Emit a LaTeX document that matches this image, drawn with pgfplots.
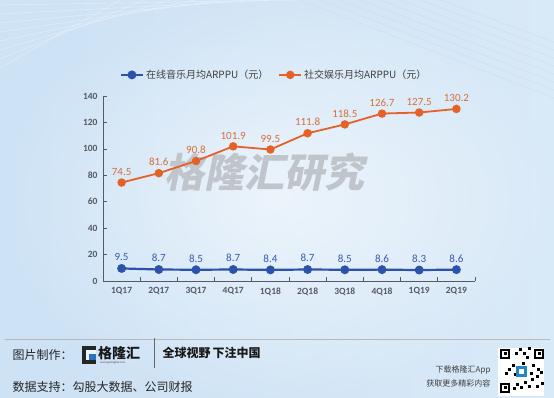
\documentclass[border=0pt]{standalone}
\usepackage{pgfplots}
\pgfplotsset{compat=1.18}
\usepackage{fontspec}
\setmainfont{Carlito}
\newfontfamily\cjk{Noto Sans CJK SC}
\definecolor{cblue}{RGB}{45,82,170}
\definecolor{corange}{RGB}{228,98,40}
\definecolor{lblue}{RGB}{55,90,175}
\definecolor{lorange}{RGB}{215,110,60}
\definecolor{axgray}{RGB}{85,90,100}
\definecolor{bgA}{RGB}{205,226,245}
\definecolor{bgB}{RGB}{236,245,252}
\definecolor{wm}{RGB}{188,193,198}
\begin{document}
\begin{tikzpicture}
\begin{scope}[x=1pt,y=1pt]
\shade[left color=bgA,right color=bgB!85!bgA] (0,0) rectangle (554,398);
\shade[inner color=white!80!bgB,outer color=bgA,opacity=0.55] (0,0) rectangle (554,398);
\foreach \i in {0,...,7}{
  \draw[white,opacity=0.35,line width=0.6pt] (0,{330+\i*9}) -- ({120+\i*25},398);
  \draw[bgA!80!blue,opacity=0.15,line width=0.6pt] ({300+\i*20},398) -- (554,{300+\i*8});
}
% watermark
\node[wm,font=\cjk\bfseries\fontsize{40}{40}\selectfont,xslant=0.2,opacity=0.9] at (268,226) {格隆汇研究};
% footer
\draw[gray!55,line width=0.6pt] (5,58.5) -- (550,58.5);
\node[anchor=west,font=\cjk\fontsize{12}{14}\selectfont,text=black!85] at (9,43) {图片制作：};
\node[anchor=west,font=\cjk\fontsize{12}{14}\selectfont,text=black!85] at (9,11) {数据支持：勾股大数据、公司财报};
\fill[black!85] (82,34) rectangle (96,52);
\fill[bgB] (86,38) rectangle (96,48);
\fill[cblue!80!cyan] (89,38) rectangle (96,44);
\node[anchor=west,font=\cjk\bfseries\fontsize{14}{16}\selectfont,text=black!90,inner sep=0pt] at (98,45) {格隆汇};
\node[anchor=west,font=\fontsize{3}{3}\selectfont,text=black!70,inner sep=0pt] at (100,35) {www.gelonghui.com};
\draw[black!60,line width=0.6pt] (154,30) -- (154,60);
\node[anchor=west,font=\cjk\bfseries\fontsize{12}{14}\selectfont,text=black!90] at (159,45) {全球视野\,下注中国};
\node[anchor=east,font=\cjk\fontsize{8}{10}\selectfont,text=black!75] at (494,28) {下载格隆汇App};
\node[anchor=east,font=\cjk\fontsize{8}{10}\selectfont,text=black!75] at (494,15) {获取更多精彩内容};
% QR placeholder
\fill[white] (498,2) rectangle (544,50);
\foreach \x/\y in {0/0,0/34,34/34}{
  \fill[black] ({500+\x},{5+\y}) rectangle ({510+\x},{15+\y});
  \fill[white] ({502+\x},{7+\y}) rectangle ({508+\x},{13+\y});
  \fill[black] ({503.5+\x},{8.5+\y}) rectangle ({506.5+\x},{11.5+\y});
}
\foreach \x/\y in {13/5,16/9,20/6,24/11,28/7,31/14,36/17,40/21,14/19,18/24,22/30,26/36,15/40,19/44,23/40,28/45,32/28,37/24,41/10,36/7,12/28,5/20,8/24,30/20}{
  \fill[black] ({500+\x},{3+\y}) rectangle ({503+\x},{6+\y});
}
\fill[cblue!70!cyan] (516,21) rectangle (527,32);
\fill[white] (519,24) rectangle (524,29);
\end{scope}
\begin{axis}[
  at={(103pt,117pt)}, anchor=south west,
  scale only axis, width=372pt, height=185pt,
  xmin=-0.5, xmax=9.5, ymin=0, ymax=140,
  axis x line*=bottom, axis y line*=left,
  axis line style={axgray,line width=0.8pt,-},
  xtick={0,...,9},
  xticklabels={1Q17,2Q17,3Q17,4Q17,1Q18,2Q18,3Q18,4Q18,1Q19,2Q19},
  minor xtick={0.5,1.5,...,9.5},
  major x tick style={draw=none},
  minor tick length=4pt, major tick length=4pt,
  tick align=inside,
  tick style={axgray,line width=0.7pt},
  ytick={0,20,...,140},
  yticklabel style={xshift=-2pt},
  xticklabel style={yshift=-3pt},
  tick label style={font=\bfseries\fontsize{9.5}{11}\selectfont,text=axgray},
  /pgf/number format/assume math mode=true,
  clip=false,
  legend style={at={(0.46,1.114)},anchor=center,draw=none,fill=none,
    legend columns=2,font=\cjk\fontsize{10}{12}\selectfont,text=black!75,
    /tikz/every even column/.append style={column sep=8pt}},
  legend image code/.code={\draw[mark repeat=2,mark phase=2,#1] plot coordinates {(0pt,0pt) (11pt,0pt) (22pt,0pt)};},
  nodes near coords, point meta=explicit symbolic,
  every node near coord/.append style={font=\fontsize{11}{13}\selectfont,yshift=3pt},
]
\addplot[cblue,line width=2.2pt,mark=*,mark size=3.3pt,
  every node near coord/.append style={text=lblue}]
coordinates {(0,9.5)[9.5] (1,8.7)[8.7] (2,8.5)[8.5] (3,8.7)[8.7] (4,8.4)[8.4] (5,8.7)[8.7] (6,8.5)[8.5] (7,8.6)[8.6] (8,8.3)[8.3] (9,8.6)[8.6]};
\addlegendentry{在线音乐月均ARPPU（元）}
\addplot[corange,line width=1.8pt,mark=*,mark size=3.3pt,
  every node near coord/.append style={text=lorange}]
coordinates {(0,74.5)[74.5] (1,81.6)[81.6] (2,90.8)[90.8] (3,101.9)[101.9] (4,99.5)[99.5] (5,111.8)[111.8] (6,118.5)[118.5] (7,126.7)[126.7] (8,127.5)[127.5] (9,130.2)[130.2]};
\addlegendentry{社交娱乐月均ARPPU（元）}
\end{axis}
\pgfresetboundingbox
\path (0pt,0pt) rectangle (554pt,398pt);
\end{tikzpicture}
\end{document}
